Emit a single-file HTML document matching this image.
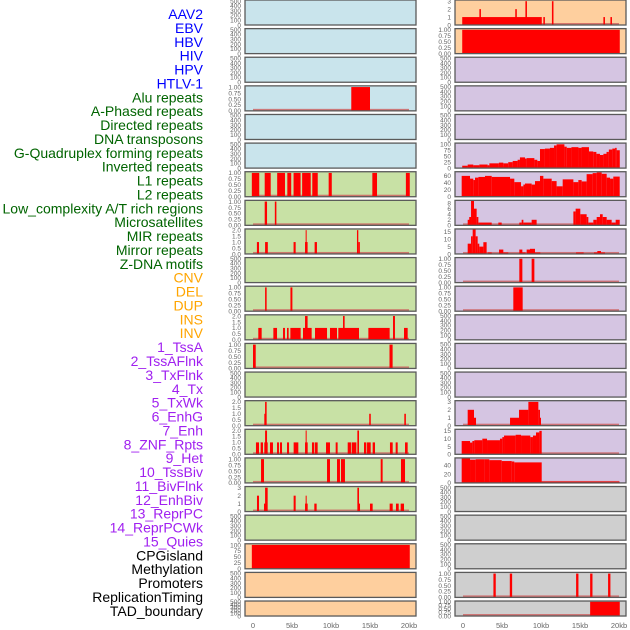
<!DOCTYPE html>
<html><head><meta charset="utf-8"><style>
html,body{margin:0;padding:0;background:#fff;}
svg{display:block;}
.lbl{font-family:"Liberation Sans",sans-serif;font-size:14px;}
.tk{font-family:"Liberation Sans",sans-serif;font-size:6.5px;fill:#666;}
.xt{font-family:"Liberation Sans",sans-serif;font-size:7.5px;fill:#666;}
</style></head><body>
<svg id="chart" width="630" height="630"></svg>
<script>
// ---- data ----
const trackLabels = ["AAV2","EBV","HBV","HIV","HPV","HTLV-1","Alu repeats","A-Phased repeats","Directed repeats","DNA transposons","G-Quadruplex forming repeats","Inverted repeats","L1 repeats","L2 repeats","Low_complexity A/T rich regions","Microsatellites","MIR repeats","Mirror repeats","Z-DNA motifs","CNV","DEL","DUP","INS","INV","1_TssA","2_TssAFlnk","3_TxFlnk","4_Tx","5_TxWk","6_EnhG","7_Enh","8_ZNF_Rpts","9_Het","10_TssBiv","11_BivFlnk","12_EnhBiv","13_ReprPC","14_ReprPCWk","15_Quies","CPGisland","Methylation","Promoters","ReplicationTiming","TAD_boundary"];
const labelGroups = [0,0,0,0,0,0,1,1,1,1,1,1,1,1,1,1,1,1,1,2,2,2,2,2,3,3,3,3,3,3,3,3,3,3,3,3,3,3,3,4,4,4,4,4];
const xTicks = [0,5,10,15,20];
const xTickLabels = ["0","5kb","10kb","15kb","20kb"];

// tick sets
const ticksEmpty = [0,100,200,300,400,500];
const ticks1 = [0,0.25,0.5,0.75,1];
const ticks2 = [0,0.5,1,1.5,2];
const ticks3 = [0,1,2,3];

// segments: [startKb, endKb, value]
const L_alu = [[12.6,15.0,1]];
const L_l1 = [[-0.15,0.8,1],[1.5,2.27,1],[3.1,4.1,1],[4.4,4.9,1],[5.2,6.1,1],[6.3,7.4,1],[7.6,8.3,1],[9.7,10.1,1],[15.3,15.9,1],[19.6,20.1,1]];
const L_lowc = [[1.5,1.8,1],[2.8,3.0,1]];
const L_mir = [[0.5,0.77,1],[1.55,1.9,1],[5.2,5.47,1],[6.67,7.0,1],[6.75,6.85,2],[7.9,8.2,1],[13.33,13.5,2],[13.5,13.7,1]];
const L_cnv = [[1.55,1.75,1],[4.8,5.05,1]];
const L_ins = [[0.68,1.11,1],[2.61,3.08,1],[3.85,4.1,1],[4.36,4.57,1],[4.79,6.11,1],[6.41,7.52,1],[6.67,7.0,2],[7.95,9.49,1],[9.87,10.77,1],[10.94,13.59,1],[11.54,11.75,2],[14.79,17.52,1],[17.95,18.2,2],[19.36,19.83,1]];
const L_tssa = [[0.0,0.35,1],[17.5,17.9,1]];
const L_txwk = [[1.45,1.6,1],[1.55,1.75,2],[14.9,15.1,1],[19.4,19.6,1]];
const L_enhg = [[0.38,0.77,1],[0.98,1.28,1],[1.45,1.88,1],[1.55,1.8,2],[2.18,2.56,1],[3.08,3.33,1],[3.46,3.72,1],[4.36,4.62,1],[5.21,5.81,1],[6.67,7.01,1],[6.75,6.85,2],[7.56,7.86,1],[7.95,8.29,1],[9.36,9.87,1],[10.6,10.85,1],[12.14,12.56,1],[12.65,13.25,1],[13.38,13.59,2],[14.23,14.53,1],[14.62,15.09,1],[15.34,15.64,1],[17.56,17.91,1],[18.29,18.55,1],[19.49,19.83,1]];
const L_enh = [[1.03,1.41,1],[9.49,9.87,1],[10.77,11.15,1],[11.28,11.79,1],[16.37,16.62,1],[18.97,19.49,1]];
const L_znf = [[0.51,0.77,2],[1.41,1.62,1],[1.55,1.88,3],[5.21,5.47,2],[6.67,7.01,1],[6.75,6.88,2],[7.86,8.16,1],[13.38,13.59,3],[13.59,13.72,1],[15.0,15.34,1],[17.52,17.91,1],[18.33,18.68,1],[18.93,19.36,1]];
const L_cpg = [[-0.15,20.1,100]];

const R_aav2 = [[-0.1,10.1,1],[2.1,2.3,2],[6.7,6.9,2],[8.0,8.2,3],[10.3,10.5,1],[11.4,11.6,3],[18.0,18.2,1],[18.9,19.1,1]];
const R_ebv = [[-0.1,20.1,1]];
const R_gq = [[-0.1,0.6,10],[0.6,1.32,15],[1.32,2.09,12],[2.09,3.16,15],[3.16,3.38,12],[3.38,4.6,20],[4.6,5.17,23],[5.17,5.8,20],[5.8,6.37,25],[6.37,7.0,30],[7.0,7.3,35],[7.3,7.95,45],[7.95,8.16,40],[8.16,9.15,42],[9.15,9.53,35],[9.53,9.87,30],[9.87,10.5,80],[10.5,11.15,82],[11.15,11.67,85],[11.67,12.0,95],[12.0,13.0,100],[13.0,13.3,90],[13.3,13.9,85],[13.9,14.8,88],[14.8,15.2,85],[15.2,16.15,88],[16.15,16.7,70],[16.7,17.1,68],[17.1,17.56,60],[17.56,18.0,55],[18.0,18.4,60],[18.4,18.7,68],[18.7,19.15,78],[19.15,19.5,82],[19.5,19.7,85],[19.7,20.1,75]];
const R_inv = [[-0.17,0.9,60],[0.9,1.32,52],[1.32,1.54,48],[1.54,1.97,55],[1.97,2.82,57],[2.82,3.68,60],[3.68,6.03,57],[6.03,6.58,52],[6.58,7.44,42],[7.44,7.74,30],[7.74,7.95,35],[7.95,8.8,38],[8.8,9.23,35],[9.23,9.87,45],[9.87,10.3,60],[10.3,11.37,52],[11.37,12.0,45],[12.0,12.78,30],[12.78,14.15,50],[14.15,14.79,42],[14.79,15.21,48],[15.21,15.85,44],[15.85,16.62,65],[16.62,17.14,68],[17.14,17.78,70],[17.78,18.42,66],[18.42,18.85,55],[18.85,19.27,52],[19.27,20.09,58]];
const R_l2 = [[0.6,1.03,2],[0.8,1.06,3],[1.03,1.41,9],[1.41,1.75,6],[1.75,1.97,3],[1.97,3.68,1],[4.53,4.96,1],[7.22,7.52,1],[7.52,7.74,2],[7.74,8.8,1],[8.8,9.44,2],[14.15,14.44,5],[14.44,15.04,6],[15.04,15.85,4],[15.85,16.07,3],[16.07,16.71,1],[16.71,17.14,2],[17.14,17.56,3],[17.56,17.91,4],[17.91,18.42,3],[18.42,19.06,2],[19.06,19.57,1],[19.57,20.09,2]];
const R_micro = [[0.6,1.03,7],[1.03,1.24,12],[1.24,1.62,17],[1.62,1.88,12],[1.88,2.09,7],[2.09,2.61,5],[2.61,3.03,8],[3.16,3.68,1],[4.62,5.17,3],[5.17,5.81,1],[7.22,7.61,3],[7.61,8.03,1],[8.16,8.59,3],[8.59,9.23,3.5],[9.23,9.91,1],[14.49,15.47,1],[16.79,17.22,1],[17.22,17.69,2],[17.69,18.2,1]];
const R_z = [[7.22,7.61,1],[8.8,9.15,1]];
const R_del = [[6.45,7.65,1]];
const R_enhg = [[0.6,1.41,2],[1.41,1.67,1],[6.03,7.18,1],[7.18,8.38,2],[8.38,9.66,3],[9.66,9.87,2],[9.87,10.0,1]];
const R_enh = [[-0.17,0.9,8.5],[0.9,1.2,7.5],[1.2,1.45,8.5],[1.45,2.48,9],[2.48,3.08,10],[3.08,4.74,9],[4.74,5.04,10],[5.04,5.26,11],[5.26,6.75,12],[6.75,7.44,12.5],[7.44,8.63,12],[8.63,8.97,11],[8.97,9.36,12],[9.36,9.79,14],[9.79,10.09,15]];
const R_het = [[-0.17,0.9,55],[0.9,1.62,52],[1.62,2.74,53],[2.74,3.38,53],[3.38,4.96,51],[4.96,6.24,49],[6.24,6.58,48],[6.58,10.09,46],[10.09,20.09,3]];
const R_prom = [[3.9,4.2,1],[6.0,6.3,1],[14.5,14.8,1],[16.3,16.6,1],[18.6,18.9,1]];
const R_tad = [[16.3,20.1,1]];

// panel configs: [row, col, bgKey, yMax, ticks, tickDecimals, segments, tracknameIndex]
const panels = [
 [0,0,"blue",520,ticksEmpty,0,[],0],[0,1,"orange",3.15,ticks3,0,R_aav2,1],
 [1,0,"blue",520,ticksEmpty,0,[],2],[1,1,"orange",1.05,ticks1,2,R_ebv,3],
 [2,0,"blue",520,ticksEmpty,0,[],4],[2,1,"lav",520,ticksEmpty,0,[],5],
 [3,0,"blue",1.05,ticks1,2,L_alu,6],[3,1,"lav",520,ticksEmpty,0,[],7],
 [4,0,"blue",520,ticksEmpty,0,[],8],[4,1,"lav",520,ticksEmpty,0,[],9],
 [5,0,"blue",520,ticksEmpty,0,[],10],[5,1,"lav",105,[0,25,50,75,100],0,R_gq,11],
 [6,0,"green",1.05,ticks1,2,L_l1,12],[6,1,"lav",72,[0,20,40,60],0,R_inv,13],
 [7,0,"green",1.05,ticks1,2,L_lowc,14],[7,1,"lav",9,[0,2,4,6,8],0,R_l2,15],
 [8,0,"green",2.1,ticks2,1,L_mir,16],[8,1,"lav",17,[0,5,10,15],0,R_micro,17],
 [9,0,"green",520,ticksEmpty,0,[],18],[9,1,"lav",1.05,ticks1,2,R_z,19],
 [10,0,"green",1.05,ticks1,2,L_cnv,20],[10,1,"lav",1.05,ticks1,2,R_del,21],
 [11,0,"green",2.1,ticks2,1,L_ins,22],[11,1,"lav",520,ticksEmpty,0,[],23],
 [12,0,"green",1.05,ticks1,2,L_tssa,24],[12,1,"lav",520,ticksEmpty,0,[],25],
 [13,0,"green",520,ticksEmpty,0,[],26],[13,1,"lav",520,ticksEmpty,0,[],27],
 [14,0,"green",2.1,ticks2,1,L_txwk,28],[14,1,"lav",3.15,ticks3,0,R_enhg,29],
 [15,0,"green",2.1,ticks2,1,L_enhg,30],[15,1,"lav",16,[0,5,10,15],0,R_enh,31],
 [16,0,"green",1.05,ticks1,2,L_enh,32],[16,1,"lav",56,[0,20,40],0,R_het,33],
 [17,0,"green",3.15,ticks3,0,L_znf,34],[17,1,"gray",520,ticksEmpty,0,[],35],
 [18,0,"green",520,ticksEmpty,0,[],36],[18,1,"gray",520,ticksEmpty,0,[],37],
 [19,0,"orange",105,[0,25,50,75,100],0,L_cpg,38],[19,1,"gray",520,ticksEmpty,0,[],39],
 [20,0,"orange",520,ticksEmpty,0,[],40],[20,1,"gray",1.05,ticks1,2,R_prom,41],
 [21,0,"orange",520,ticksEmpty,0,[],42],[21,1,"gray",1.05,ticks1,2,R_tad,43]
];

// ---- styling / layout ----
const bgColors = {blue:"#c9e4ec",orange:"#fecf9e",lav:"#d5c5e2",green:"#c8e1a5",gray:"#cfcfcf"};
const groupColors = ["#0000ff","#006400","#ffa500","#a020f0","#000000"];
const colLeft = [245,455];
const panelW = 171;
const rowTop = r => r*28.62;
const rowH = r => r===21 ? 15 : 25;
const xScale = (col,kb) => colLeft[col] + 8 + kb*7.8;

const NS = "http://www.w3.org/2000/svg";
const svg = document.getElementById("chart");
function mk(tag, attrs){const e=document.createElementNS(NS,tag);for(const k in attrs)e.setAttribute(k,attrs[k]);return e;}

// labels
trackLabels.forEach((t,i)=>{
  const e = mk("text",{x:203,y:14+13.88*i+5,"text-anchor":"end",class:"lbl",fill:groupColors[labelGroups[i]]});
  e.textContent = t;
  
  
  svg.appendChild(e);
});

panels.forEach(p=>{
  const [row,col,bg,ymax,ticks,dec,segs,li] = p;
  const T = rowTop(row), H = rowH(row), L = colLeft[col];
  const yS = v => T + H - v/ymax*H;
  const g = mk("g",{});
  
  
  g.appendChild(mk("rect",{x:L,y:T,width:panelW,height:H,fill:bgColors[bg]}));
  if(segs.length){
    const base = mk("rect",{x:xScale(col,0),y:T+H-2,width:xScale(col,20)-xScale(col,0),height:2,fill:"#cd5c5c",opacity:0.8});
    g.appendChild(base);
  }
  segs.forEach(s=>{
    const x0 = xScale(col,s[0]), x1 = xScale(col,s[1]);
    const b = mk("rect",{x:x0,y:yS(s[2]),width:Math.max(1,x1-x0),height:T+H-yS(s[2]),fill:"#ff0000"});
    
    
    g.appendChild(b);
  });
  g.appendChild(mk("rect",{x:L,y:T,width:panelW,height:H,fill:"none",stroke:"#5a5a5a","stroke-width":1.3}));
  ticks.forEach(v=>{
    const t = mk("text",{x:L-4,y:yS(v)+2.3,"text-anchor":"end",class:"tk"});
    t.textContent = v.toFixed(dec);
    
    
    g.appendChild(t);
  });
  svg.appendChild(g);
});

[0,1].forEach(col=>{
  xTicks.forEach((v,i)=>{
    const t = mk("text",{x:xScale(col,v),y:628,"text-anchor":"middle",class:"xt"});
    t.textContent = xTickLabels[i];
    
    
    svg.appendChild(t);
  });
});
</script>
</body></html>
